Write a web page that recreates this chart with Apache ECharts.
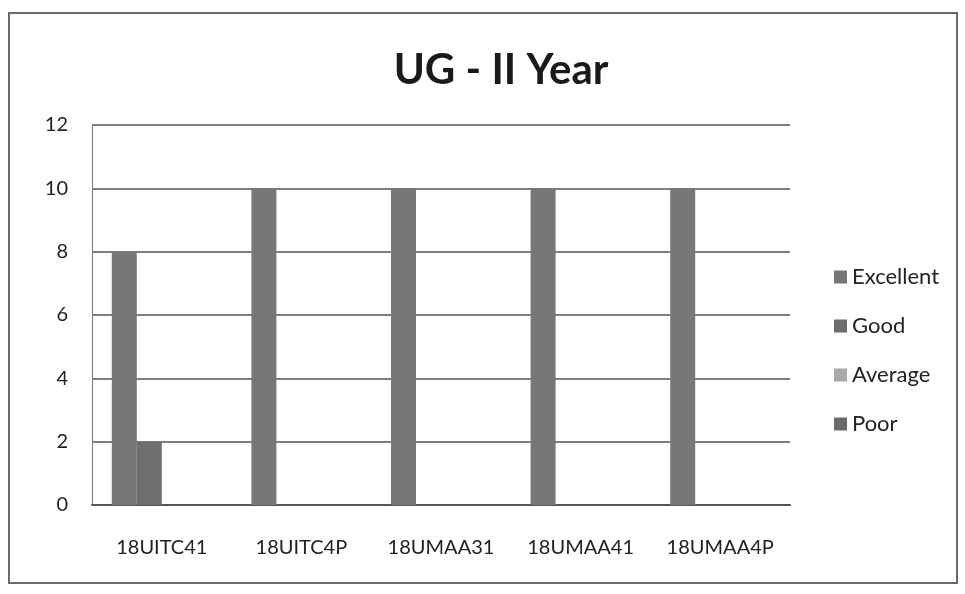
<!DOCTYPE html>
<html>
<head>
<meta charset="utf-8">
<script src="https://cdn.jsdelivr.net/npm/echarts@6/dist/echarts.min.js"></script>
<style>
  html, body { margin: 0; padding: 0; background: #fff; }
  #frame { position: absolute; left: 8px; top: 12px; width: 950px; height: 572px; border: 2px solid #6a6a6a; box-sizing: border-box; }
  #chart { width: 965px; height: 594px; }
</style>
</head>
<body>
<div id="frame"></div>
<div id="chart"></div>
<script>
// Course codes and the count of responses per rating
const courses = ['18UITC41', '18UITC4P', '18UMAA31', '18UMAA41', '18UMAA4P'];
const excellent = [8, 10, 10, 10, 10];
const good = [2, 0, 0, 0, 0];
const average = [0, 0, 0, 0, 0];
const poor = [0, 0, 0, 0, 0];
const yTicks = [0, 2, 4, 6, 8, 10, 12];

const font = 'Lato, "Open Sans", sans-serif';
const chart = echarts.init(document.getElementById('chart'));

function bar(name, data, color) {
  return {
    name: name,
    type: 'bar',
    data: data,
    barWidth: 25,
    barGap: '0%',
    itemStyle: { color: color },
    emphasis: { disabled: true }
  };
}

chart.setOption({
  backgroundColor: 'transparent',
  animation: false,
  title: {
    text: 'UG - II Year',
    left: 496,
    top: 44,
    textAlign: 'center',
    textStyle: { fontFamily: font, fontSize: 42, fontWeight: 'bold', color: '#1a1a1a' }
  },
  legend: {
    orient: 'vertical',
    left: 829,
    top: 261,
    itemWidth: 13,
    itemHeight: 13,
    itemGap: 27,
    icon: 'rect',
    textStyle: { fontFamily: font, fontSize: 22, color: '#222' },
    data: ['Excellent', 'Good', 'Average', 'Poor']
  },
  grid: { left: 92, right: 175, top: 125, bottom: 89 },
  xAxis: {
    type: 'category',
    data: courses,
    axisLine: { lineStyle: { color: '#555', width: 2 } },
    axisTick: { show: false },
    axisLabel: { fontFamily: font, fontSize: 20, color: '#222', margin: 33 }
  },
  yAxis: {
    type: 'value',
    min: yTicks[0],
    max: yTicks[yTicks.length - 1],
    interval: 2,
    axisLine: { show: true, lineStyle: { color: '#777', width: 1 } },
    axisTick: { show: false },
    splitLine: { lineStyle: { color: '#555', width: 1.5 } },
    axisLabel: { fontFamily: font, fontSize: 20, color: '#222', margin: 24 }
  },
  series: [
    bar('Excellent', excellent, '#777777'),
    bar('Good', good, '#6e6e6e'),
    bar('Average', average, '#a9a9a9'),
    bar('Poor', poor, '#6a6a6a')
  ]
});
</script>
</body>
</html>
